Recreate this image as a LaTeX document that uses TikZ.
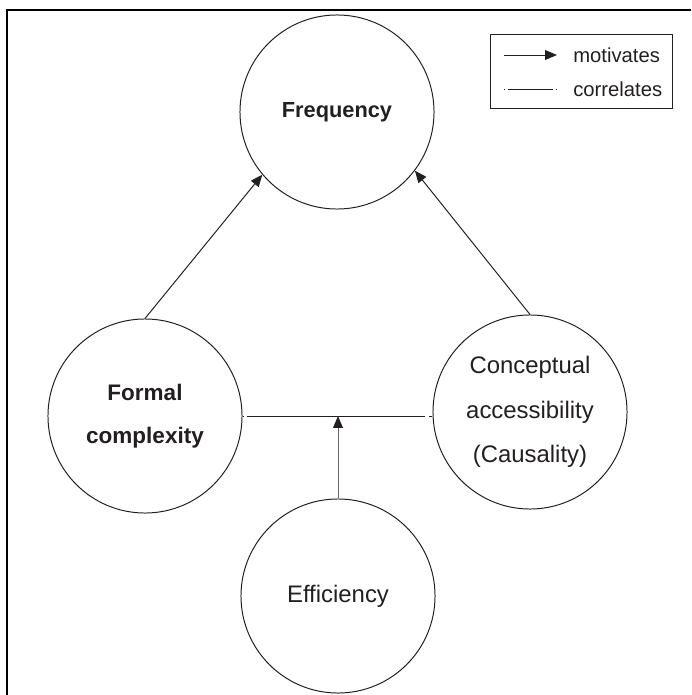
\documentclass[tikz,border=0pt]{standalone}
\usepackage{fontspec}
\setmainfont{Liberation Sans}
\usetikzlibrary{arrows.meta}
\definecolor{tinta}{RGB}{35,31,32}
\tikzset{
  circulo/.style={draw=tinta, line width=0.7pt, circle, minimum size=4.85cm, inner sep=0pt, align=center, text=tinta},
  motiva/.style={draw=tinta, line width=0.7pt, -{Triangle[length=8.5pt,width=7pt,color=tinta]}},
  correla/.style={draw=tinta, line width=0.7pt, dash pattern=on 0.7pt off 2.3pt on 127pt off 2.7pt on 3pt},
  correlaley/.style={draw=tinta, line width=0.7pt, dash pattern=on 0.7pt off 2.3pt on 31.6pt off 2.3pt on 2pt},
  leyenda/.style={text=tinta, font=\fontsize{14.4}{17}\selectfont, anchor=west, inner sep=0pt}
}
\begin{document}
\begin{tikzpicture}[x=0.025cm, y=-0.025cm]
        \useasboundingbox (0,0) rectangle (691,695);
        % Marco
        \draw[line width=1pt] (7,695) -- (7,10) -- (691,10);
        % Circulos
        \node[circulo, font=\bfseries\fontsize{15.5}{20}\selectfont] (freq) at (337,112) {Frequency};
        \node[circulo, font=\bfseries\fontsize{16}{30.5}\selectfont] (formal) at (145,416) {Formal\\complexity};
        \node[circulo, font=\fontsize{17}{31.5}\selectfont] (concept) at (530,412) {Conceptual\\accessibility\\(Causality)};
        \node[circulo, font=\fontsize{17}{20}\selectfont] (effic) at (338,596) {Efficiency};
        % Flechas
        \draw[motiva] (formal.north) -- (freq.220);
        \draw[motiva] (concept.north) -- (freq.323);
        \draw[correla] (formal.east) -- (formal.east -| concept.west);
        \draw[motiva, draw=black!60] (effic.north) -- (effic.north |- formal.east);
        % Leyenda
        \node[draw=tinta, line width=0.7pt, minimum width=4.525cm, minimum height=1.825cm, inner sep=0pt] (ley) at (581.5,71.5) {};
        \node[leyenda] (mot) at (573,55) {motivates};
        \node[leyenda] (cor) at (573,89) {correlates};
        \coordinate (m0) at (504,55);
        \coordinate (c0) at (504,89);
        \draw[motiva] (m0) -- (m0 -| 557,0);
        \draw[correlaley] (c0) -- (c0 -| 557,0);
\end{tikzpicture}
\end{document}
